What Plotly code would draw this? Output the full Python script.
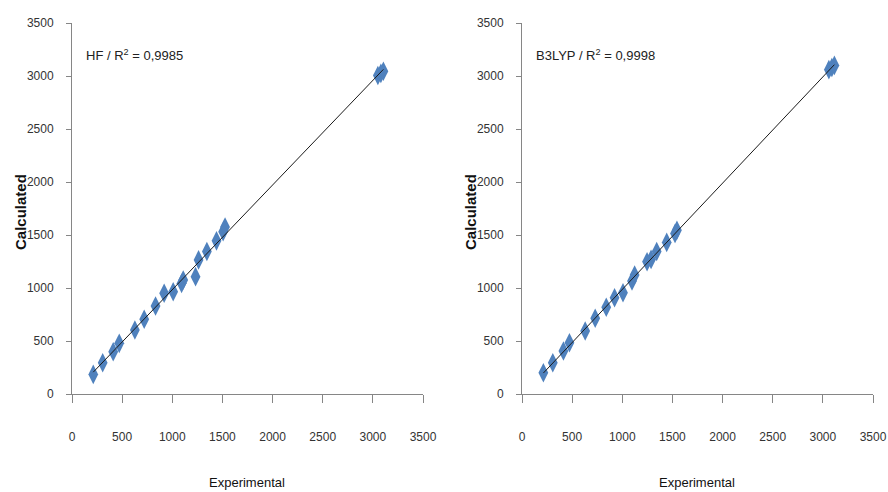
import numpy as np
import plotly.graph_objects as go

# ---- data ----
hf_exp = [212, 306, 411, 471, 627, 720, 833, 919, 1009, 1093, 1109, 1232,
          1262, 1345, 1441, 1507, 1526, 3050, 3080, 3105]
hf_calc = [185, 295, 399, 478, 604, 705, 830, 950, 965, 1044, 1075, 1107,
           1265, 1345, 1445, 1531, 1575, 3005, 3025, 3045]

b3_exp = [213, 307, 413, 473, 630, 730, 840, 923, 1007, 1097, 1123, 1247,
          1287, 1343, 1443, 1526, 1545, 3060, 3090, 3115]
b3_calc = [201, 295, 405, 484, 594, 714, 818, 908, 955, 1066, 1123, 1248,
           1270, 1345, 1430, 1515, 1545, 3060, 3080, 3100]

tick_vals = [0, 500, 1000, 1500, 2000, 2500, 3000, 3500]
tick_text = ["0", "500", "1000", "1500", "2000", "2500", "3000", "3500"]
labels = ["HF / R<sup>2</sup> = 0,9985", "B3LYP / R<sup>2</sup> = 0,9998"]

W, H = 888, 492
FONT = "Liberation Sans Narrow, Liberation Sans, Arial, sans-serif"
MARK = "#4F81BD"
AXC = "#868686"

fig = go.Figure()

panels = [
    (hf_exp, hf_calc, "x", "y", (72, 423)),
    (b3_exp, b3_calc, "x2", "y2", (522, 873)),
]
for (ex, ca, xa, ya, _) in panels:
    fig.add_trace(go.Scatter(
        x=ex, y=ca, mode="markers", xaxis=xa, yaxis=ya,
        marker=dict(symbol="diamond-tall", size=14, color=MARK,
                    line=dict(width=0)),
        showlegend=False))
    k, b = np.polyfit(ex, ca, 1)
    xs = np.array([min(ex), max(ex)])
    fig.add_trace(go.Scatter(
        x=xs, y=k * xs + b, mode="lines", xaxis=xa, yaxis=ya,
        line=dict(color="#1a1a1a", width=1), showlegend=False))

y0, y1 = (H - 394) / H, (H - 23) / H

axis_common = dict(
    range=[0, 3500], tickvals=tick_vals, ticktext=tick_text,
    showgrid=False, zeroline=False, showline=True, linecolor=AXC,
    linewidth=1, ticks="outside", tickcolor=AXC, automargin=False,
    tickfont=dict(family=FONT, size=12, color="#333333"),
)

layout = dict(
    width=W, height=H, margin=dict(l=0, r=0, t=0, b=0, autoexpand=False),
    paper_bgcolor="white", plot_bgcolor="white",
)
for i, (_, _, xa, ya, (px0, px1)) in enumerate(panels):
    xk = "xaxis" if i == 0 else "xaxis2"
    yk = "yaxis" if i == 0 else "yaxis2"
    layout[xk] = dict(axis_common, domain=[px0 / W, px1 / W],
                      anchor=ya, ticklen=8, ticklabelstandoff=24)
    layout[yk] = dict(axis_common, domain=[y0, y1], anchor=xa,
                      ticklen=5, ticklabelstandoff=10)

fig.update_layout(**layout)

ann = []
for i, (_, _, xa, ya, (px0, px1)) in enumerate(panels):
    ann.append(dict(text=labels[i], x=(px0 + 12) / W, y=(H - 55) / H,
                    xref="paper", yref="paper", xanchor="left",
                    yanchor="middle", showarrow=False,
                    font=dict(family=FONT, size=13, color="#222222")))
    ann.append(dict(text="Experimental", x=((px0 + px1) / 2 - 1) / W,
                    y=(H - 482) / H, xref="paper", yref="paper",
                    xanchor="center", yanchor="middle", showarrow=False,
                    font=dict(family=FONT, size=13, color="#111111")))
    ann.append(dict(text="<b>Calculated</b>", x=(px0 - 52) / W,
                    y=(H - 212) / H, xref="paper", yref="paper",
                    xanchor="center", yanchor="middle", textangle=-90,
                    showarrow=False,
                    font=dict(family=FONT, size=15, color="#111111")))
fig.update_layout(annotations=ann)

fig.write_html(
    "out.html",
    config={"displayModeBar": False},
    post_script="document.body.style.margin='0';"
                "document.body.style.overflow='hidden';")
